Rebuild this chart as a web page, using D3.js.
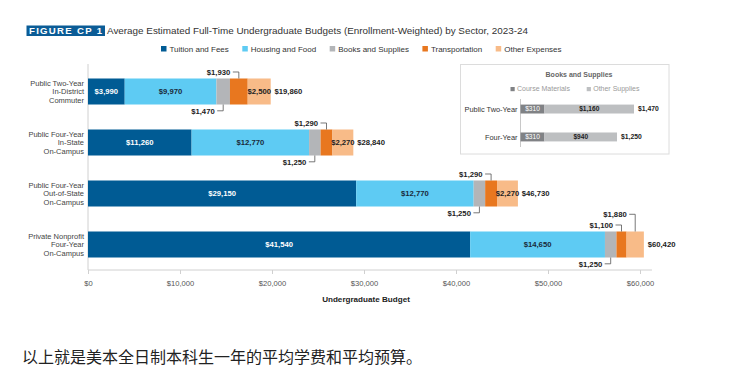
<!DOCTYPE html>
<html><head><meta charset="utf-8">
<script src="https://cdn.jsdelivr.net/npm/d3@7/dist/d3.min.js"></script>
<style>
html,body{margin:0;padding:0;background:#fff;}
svg{display:block;font-family:"Liberation Sans",Arial,sans-serif;}
</style></head>
<body>
<svg id="c" width="736" height="380"></svg>
<script>
// ---- data ----
const categories = [
  ["Public Two-Year","In-District","Commuter"],
  ["Public Four-Year","In-State","On-Campus"],
  ["Public Four-Year","Out-of-State","On-Campus"],
  ["Private Nonprofit","Four-Year","On-Campus"]
];
const seriesNames = ["Tuition and Fees","Housing and Food","Books and Supplies","Transportation","Other Expenses"];
const tuition   = [3990, 11260, 29150, 41540];
const housing   = [9970, 12770, 12770, 14650];
const books     = [1470, 1250, 1250, 1250];
const transport = [1930, 1290, 1290, 1100];
const other     = [2500, 2270, 2270, 1880];
const totals    = [19860, 28840, 46730, 60420];
const xTicks    = [0, 10000, 20000, 30000, 40000, 50000, 60000];

const insetCats = ["Public Two-Year", "Four-Year"];
const insetSeries = ["Course Materials", "Other Supplies"];
const courseMaterials = [310, 310];
const otherSupplies   = [1160, 940];
const insetTotals     = [1470, 1250];

const titleBadge = "FIGURE CP 1";
const titleText = "Average Estimated Full-Time Undergraduate Budgets (Enrollment-Weighted) by Sector, 2023-24";
const xTitle = "Undergraduate Budget";
const insetTitle = "Books and Supplies";
const caption = "以上就是美本全日制本科生一年的平均学费和平均预算。";

// ---- style ----
const colors = ["#005b94", "#5ecbf3", "#b3b5b8", "#e8771f", "#f8bb88"];
const insetColors = ["#808285", "#bdbfc1"];
const fmt = v => "$" + d3.format(",")(v);

const svg = d3.select("#c");

// title
svg.append("rect").attr("x", 26.5).attr("y", 25.5).attr("width", 78.5).attr("height", 10.5).attr("fill", "#0b5c96");
svg.append("text").attr("x", 29).attr("y", 34.2).attr("fill", "#fff").attr("font-weight", "bold")
  .attr("font-size", 9.6).attr("textLength", 73).attr("lengthAdjust", "spacing").text(titleBadge);
svg.append("text").attr("x", 107).attr("y", 34.2).attr("fill", "#333").attr("font-size", 9.8)
  .attr("textLength", 421).attr("lengthAdjust", "spacingAndGlyphs").text(titleText);

// legend
{
  let lx = 161;
  seriesNames.forEach((n, i) => {
    svg.append("rect").attr("x", lx).attr("y", 46).attr("width", 5.5).attr("height", 5.5).attr("fill", colors[i]);
    const t = svg.append("text").attr("x", lx + 8.5).attr("y", 51.8).attr("font-size", 8).attr("fill", "#333").text(n);
    lx += 8.5 + t.node().getComputedTextLength() + 13.5;
  });
}

// scales
const x = d3.scaleLinear().domain([0, 60000]).range([88, 640]);
const y = d3.scaleBand().domain(d3.range(categories.length)).range([66, 270]).paddingInner(0.49).paddingOuter(0.245);
const bh = y.bandwidth();

// axes lines
svg.append("line").attr("x1", 88).attr("x2", 88).attr("y1", 64).attr("y2", 270).attr("stroke", "#d0d0d0").attr("stroke-width", 1);
const xAxis = d3.axisBottom(x).tickValues(xTicks).tickFormat(fmt).tickSize(4).tickSizeOuter(0);
const gx = svg.append("g").attr("transform", "translate(0,270)").call(xAxis);
gx.select(".domain").remove();
gx.append("line").attr("x1", 88).attr("x2", x(61300)).attr("y1", 0).attr("y2", 0).attr("stroke", "#d0d0d0");
gx.selectAll(".tick line").attr("stroke", "#d0d0d0");
gx.selectAll(".tick text").attr("font-size", 7.6).attr("fill", "#555").attr("dy", "0.71em").attr("y", 11)
  .attr("font-family", "Liberation Sans, Arial, sans-serif");
svg.append("text").attr("x", 366).attr("y", 302).attr("text-anchor", "middle").attr("font-weight", "bold")
  .attr("font-size", 8.1).attr("fill", "#222").text(xTitle);

// category labels
categories.forEach((lines, i) => {
  const cy = y(i) + bh / 2;
  const t = svg.append("text").attr("text-anchor", "end").attr("font-size", 7.5).attr("fill", "#444");
  lines.forEach((l, j) => {
    t.append("tspan").attr("x", 84).attr("y", cy + (j - 1) * 8.6 + 2.6).text(l);
  });
});

// stacked bars
const series = [tuition, housing, books, transport, other];
const stackData = categories.map((c, i) => {
  let acc = 0;
  return series.map((s, k) => { const o = {k, i, v: s[i], x0: acc, x1: acc + s[i]}; acc += s[i]; return o; });
});
const g = svg.append("g");
stackData.forEach((segs, i) => {
  const top = y(i);
  segs.forEach(s => {
    g.append("rect").attr("x", x(s.x0)).attr("y", top).attr("width", x(s.x1) - x(s.x0)).attr("height", bh).attr("fill", colors[s.k]);
  });
  // tuition & housing labels
  [0, 1].forEach(k => {
    const s = segs[k];
    g.append("text").attr("x", (x(s.x0) + x(s.x1)) / 2).attr("y", top + bh / 2 + 2.8).attr("text-anchor", "middle")
      .attr("font-weight", "bold").attr("font-size", 7.7).attr("fill", k === 0 ? "#fff" : "#1a2a3a").text(fmt(s.v));
  });
  // callouts
  const callouts = [];
  callouts.push({seg: segs[2], pos: "below", lvl: 0});
  callouts.push({seg: segs[3], pos: "above", lvl: 0});
  const otherFits = (x(segs[4].x1) - x(segs[4].x0)) > 20;
  if (otherFits) {
    g.append("text").attr("x", (x(segs[4].x0) + x(segs[4].x1)) / 2).attr("y", top + bh / 2 + 2.8).attr("text-anchor", "middle")
      .attr("font-weight", "bold").attr("font-size", 7.7).attr("fill", "#222").text(fmt(segs[4].v));
  } else {
    callouts.push({seg: segs[4], pos: "above", lvl: 1});
  }
  callouts.forEach(c => {
    const cx = (x(c.seg.x0) + x(c.seg.x1)) / 2;
    const ly = c.pos === "above" ? top - 6.5 - c.lvl * 10.7 : top + bh + 6.3;
    const edge = c.pos === "above" ? top : top + bh;
    g.append("path").attr("d", `M${cx - 6},${ly}H${cx}V${edge}`).attr("fill", "none").attr("stroke", "#555").attr("stroke-width", 0.8);
    g.append("text").attr("x", cx - 8.5).attr("y", ly + 2.7).attr("text-anchor", "end")
      .attr("font-weight", "bold").attr("font-size", 7.7).attr("fill", "#222").text(fmt(c.seg.v));
  });
  // total
  g.append("text").attr("x", x(totals[i]) + 3.8).attr("y", top + bh / 2 + 2.8)
    .attr("font-weight", "bold").attr("font-size", 7.7).attr("fill", "#222").text(fmt(totals[i]));
});

// inset
svg.append("rect").attr("x", 460.5).attr("y", 64.5).attr("width", 208.5).attr("height", 89.5)
  .attr("fill", "#fff").attr("stroke", "#dcdcdc").attr("stroke-width", 1);
svg.append("text").attr("x", 579).attr("y", 76.5).attr("text-anchor", "middle").attr("font-weight", "bold")
  .attr("font-size", 7).attr("fill", "#666").text(insetTitle);
{
  const lxs = [510.5, 586.7];
  insetSeries.forEach((n, i) => {
    svg.append("rect").attr("x", lxs[i]).attr("y", 87).attr("width", 4.2).attr("height", 4.2).attr("fill", insetColors[i]);
    svg.append("text").attr("x", lxs[i] + 6.5).attr("y", 91.4).attr("font-size", 7).attr("fill", "#9a9a9a").text(n);
  });
}
const xi = d3.scaleLinear().domain([0, 1470]).range([520.5, 634]);
const yi = d3.scaleBand().domain(d3.range(insetCats.length)).range([99, 147]).paddingInner(0.68).paddingOuter(0.2);
const ibh = yi.bandwidth();
svg.append("line").attr("x1", 520.5).attr("x2", 520.5).attr("y1", 99).attr("y2", 147).attr("stroke", "#c8c8c8");
insetCats.forEach((c, i) => {
  const top = yi(i), cy = top + ibh / 2;
  svg.append("rect").attr("x", xi(0)).attr("y", top).attr("width", xi(courseMaterials[i]) - xi(0)).attr("height", ibh).attr("fill", insetColors[0]);
  svg.append("rect").attr("x", xi(courseMaterials[i])).attr("y", top)
    .attr("width", xi(courseMaterials[i] + otherSupplies[i]) - xi(courseMaterials[i])).attr("height", ibh).attr("fill", insetColors[1]);
  svg.append("text").attr("x", (xi(0) + xi(courseMaterials[i])) / 2).attr("y", cy + 2.4).attr("text-anchor", "middle")
    .attr("font-size", 6.6).attr("fill", "#fff").text(fmt(courseMaterials[i]));
  svg.append("text").attr("x", (xi(courseMaterials[i]) + xi(courseMaterials[i] + otherSupplies[i])) / 2).attr("y", cy + 2.4)
    .attr("text-anchor", "middle").attr("font-weight", "bold").attr("font-size", 6.6).attr("fill", "#222").text(fmt(otherSupplies[i]));
  svg.append("text").attr("x", xi(insetTotals[i]) + 4).attr("y", cy + 2.4).attr("font-weight", "bold")
    .attr("font-size", 6.8).attr("fill", "#222").text(fmt(insetTotals[i]));
  svg.append("text").attr("x", 517.5).attr("y", cy + 2.6).attr("text-anchor", "end").attr("font-size", 7.4)
    .attr("fill", "#333").text(c);
});

// caption
svg.append("text").attr("x", 22).attr("y", 362.5).attr("font-family", "'Noto Sans CJK SC', sans-serif")
  .attr("font-size", 16).attr("fill", "#222").text(caption);
</script>
</body></html>
